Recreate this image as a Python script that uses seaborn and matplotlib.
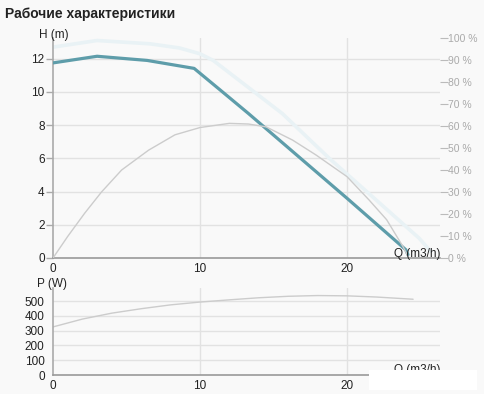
import numpy as np
import pandas as pd
import matplotlib
matplotlib.use("Agg")
import matplotlib.pyplot as plt
from matplotlib.patches import Rectangle
import seaborn as sns

# ---- data ----
q_head = [0, 3, 6.4, 9.6, 11.4, 13.3, 20, 24.0, 24.15]
head = [11.75, 12.15, 11.9, 11.42, 10.1, 8.7, 3.6, 0.5, 0.2]

q_max = [0, 3, 6.6, 8.6, 10, 10.9, 13.4, 15.6, 18.8, 24.9, 25.7]
head_max = [12.7, 13.1, 12.9, 12.65, 12.3, 11.9, 10.2, 8.7, 6.0, 1.2, 0.4]

q_eff = [0, 1.0, 2.16, 3.3, 4.67, 6.5, 8.3, 10, 12, 13.3, 14.5, 16.3, 17.9, 20, 21.5, 22.7, 23.8, 24.15]
eff = [0, 9.8, 20.4, 30, 40, 49, 56, 59.3, 61.2, 60.9, 59.6, 53.6, 46.8, 37, 26.4, 17.4, 5.3, 0.8]

q_pow = [0, 2, 4, 6, 8, 10, 12, 14, 16, 18, 20, 22, 24.5]
power = [325, 378, 418, 448, 474, 493, 508, 522, 532, 537, 535, 527, 512]

h_ticks = [0, 2, 4, 6, 8, 10, 12]
eff_ticks = [0, 10, 20, 30, 40, 50, 60, 70, 80, 90, 100]
p_ticks = [0, 100, 200, 300, 400, 500]
q_ticks = [0, 10, 20]

title = "Рабочие характеристики"

sns.set_style("white")
plt.rcParams['font.family'] = ['Liberation Sans', 'DejaVu Sans']

BG = '#f9f9f9'
GRID = '#e2e2e2'
TEAL = '#5e9daa'
FAINT = '#e9f2f5'
GRAY = '#cccccc'

W, H = 485, 394
fig = plt.figure(figsize=(W / 100, H / 100), dpi=100, facecolor=BG)

def fx(px):
    return px / W

def fy(py):
    return 1 - py / H

ax1 = fig.add_axes([fx(53), fy(258), fx(387), (258 - 38) / H])
ax1.set_facecolor(BG)
ax2 = ax1.twinx()
ax3 = fig.add_axes([fx(53), fy(375), fx(387), (375 - 288) / H])
ax3.set_facecolor(BG)

xmax = 26.33

# top: head curves
sns.lineplot(x=q_max, y=head_max, ax=ax1, color=FAINT, linewidth=2.6, sort=False, zorder=2)
sns.lineplot(x=q_head, y=head, ax=ax1, color=TEAL, linewidth=2.3, sort=False, zorder=4)
# efficiency on right axis
sns.lineplot(x=q_eff, y=eff, ax=ax2, color=GRAY, linewidth=1.0, sort=False, zorder=3)
# power
sns.lineplot(x=q_pow, y=power, ax=ax3, color=GRAY, linewidth=1.0, sort=False)

for ax in (ax1, ax3):
    ax.set_xlim(0, xmax)
    ax.set_xticks(q_ticks)
    ax.set_xticklabels([str(t) for t in q_ticks], fontsize=8.5, color='#222222')
    ax.tick_params(axis='x', direction='inout', length=5, width=1, color='#555555', pad=1)
    ax.tick_params(axis='y', direction='out', length=5, width=1, color='#aaaaaa',
                   labelsize=8.5, labelcolor='#222222', pad=1)
    ax.set_xlabel('')
    ax.set_ylabel('')
    for s in ('top', 'right'):
        ax.spines[s].set_visible(False)
    ax.spines['left'].set_color('#aaaaaa')
    ax.spines['bottom'].set_color('#999999')
    ax.spines['left'].set_linewidth(1.2)
    ax.spines['bottom'].set_linewidth(1.2)

ax1.set_ylim(0, 13.25)
ax1.set_yticks(h_ticks)
ax1.set_yticklabels([str(t) for t in h_ticks])
for t in h_ticks[1:]:
    ax1.axhline(t, color=GRID, linewidth=1, zorder=0)
for t in q_ticks[1:]:
    ax1.axvline(t, color=GRID, linewidth=1, zorder=0)

ax2.set_ylim(0, 100)
ax2.set_yticks(eff_ticks)
ax2.set_yticklabels([f"{t} %" for t in eff_ticks])
ax2.tick_params(axis='y', direction='out', length=6, width=0.8, color='#bbbbbb',
                labelsize=7.5, labelcolor='#aaaaaa', pad=0)
ax2.set_ylabel('')
for s in ('top', 'right', 'left', 'bottom'):
    ax2.spines[s].set_visible(False)

ax3.set_ylim(0, 588)
ax3.set_yticks(p_ticks)
ax3.set_yticklabels([str(t) for t in p_ticks])
for t in p_ticks[1:]:
    ax3.axhline(t, color=GRID, linewidth=1, zorder=0)
for t in q_ticks[1:]:
    ax3.axvline(t, color=GRID, linewidth=1, zorder=0)

# axis titles
fig.text(fx(39), fy(35), "H (m)", fontsize=8.5, color='#222222', va='center', ha='left')
fig.text(fx(37), fy(284), "P (W)", fontsize=8.5, color='#222222', va='center', ha='left')
fig.text(fx(417), fy(254), "Q (m3/h)", fontsize=8.5, color='#222222', va='center', ha='center', zorder=6)
fig.text(fx(417), fy(370), "Q (m3/h)", fontsize=8.5, color='#222222', va='center', ha='center', zorder=6)

fig.text(fx(5), fy(14), title, fontsize=10, fontweight='bold', color='#222222', va='center', ha='left')

# white overlay box at the bottom right
fig.patches.append(Rectangle((fx(369), fy(390)), fx(108), 20 / H, transform=fig.transFigure,
                             facecolor='white', edgecolor='none', zorder=10))

fig.savefig("out.png", dpi=100, facecolor=BG)
